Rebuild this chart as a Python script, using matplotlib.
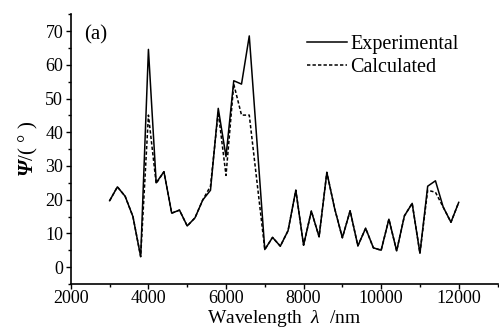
import matplotlib
matplotlib.use("Agg")
import matplotlib.pyplot as plt
from matplotlib.ticker import MultipleLocator

plt.rcParams["font.family"] = "Liberation Serif"
plt.rcParams["mathtext.fontset"] = "custom"
plt.rcParams["mathtext.rm"] = "Liberation Serif"
plt.rcParams["mathtext.it"] = "Liberation Serif:italic"
plt.rcParams["mathtext.bf"] = "Liberation Serif:italic:bold"

# wavelength grid (nm), 6800 has no visible vertex
wavelength = [3000, 3200, 3400, 3600, 3800, 4000, 4200, 4400, 4600, 4800,
              5000, 5200, 5400, 5600, 5800, 6000, 6200, 6400, 6600, 7000,
              7200, 7400, 7600, 7800, 8000, 8200, 8400, 8600, 8800, 9000,
              9200, 9400, 9600, 9800, 10000, 10200, 10400, 10600, 10800, 11000,
              11200, 11400, 11600, 11800, 12000]
experimental = [19.7, 23.8, 21.0, 15.0, 3.1, 64.6, 25.0, 28.3, 16.0, 16.9,
                12.2, 14.6, 19.9, 22.8, 47.1, 32.8, 55.3, 54.3, 68.6, 5.2,
                8.8, 6.2, 10.8, 22.8, 6.5, 16.6, 9.0, 28.1, 17.4, 8.7,
                16.7, 6.3, 11.5, 5.7, 5.0, 14.2, 4.8, 15.2, 18.9, 4.1,
                24.0, 25.6, 17.8, 13.3, 19.2]
calculated = [19.7, 23.8, 21.0, 15.0, 3.1, 45.1, 24.8, 28.3, 16.0, 16.9,
              12.2, 14.6, 19.9, 24.0, 46.0, 27.2, 54.3, 45.1, 45.1, 5.2,
              8.8, 6.2, 10.8, 22.8, 6.5, 16.6, 9.0, 28.1, 17.4, 8.7,
              16.7, 6.3, 11.5, 5.7, 5.0, 14.2, 4.8, 15.2, 18.9, 4.1,
              22.8, 22.2, 17.8, 13.3, 19.2]

fig = plt.figure(figsize=(4.99, 3.34), dpi=100)
ax = fig.add_axes([0.142, 0.150, 0.855, 0.807])

ax.plot(wavelength, calculated, color="black", linestyle=(0, (2.2, 1.4)),
        linewidth=1.1, label="Calculated")
ax.plot(wavelength, experimental, color="black", linestyle="-",
        linewidth=1.1, label="Experimental")

ax.set_xlim(2000, 13000)
ax.set_ylim(-5, 75)
ax.xaxis.set_major_locator(MultipleLocator(2000))
ax.xaxis.set_minor_locator(MultipleLocator(1000))
ax.yaxis.set_major_locator(MultipleLocator(10))
ax.yaxis.set_minor_locator(MultipleLocator(5))
ax.tick_params(which="major", direction="out", length=3.5, width=1.0,
               labelsize=13, pad=2)
ax.tick_params(axis="x", which="major", pad=1)
ax.tick_params(which="minor", direction="out", length=2.2, width=1.0)
for side in ("top", "right"):
    ax.spines[side].set_visible(False)
for side in ("left", "bottom"):
    ax.spines[side].set_linewidth(1.2)

ax.set_xlabel(r"Wavelength  $\lambda$  /nm", fontsize=14, labelpad=0.5)
ax.set_ylabel(r"$\mathbf{\Psi}$/( $\degree$ )", fontsize=15, labelpad=4)

ax.text(0.03, 0.925, "(a)", transform=ax.transAxes, fontsize=15,
        va="center", ha="left")

handles, labels = ax.get_legend_handles_labels()
ax.legend(handles[::-1], labels[::-1], loc="upper left",
          bbox_to_anchor=(0.553, 0.922), frameon=False, fontsize=14.5,
          handlelength=2.0, handletextpad=0.15, labelspacing=0.15,
          borderaxespad=0, borderpad=0)

fig.savefig("out.png", dpi=100)
